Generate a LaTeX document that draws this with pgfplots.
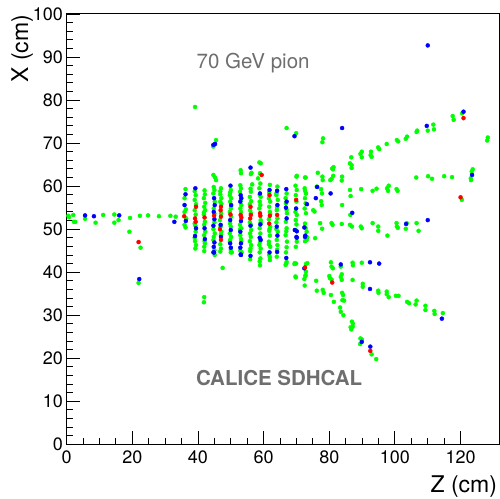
\documentclass[border=0pt]{standalone}
\usepackage{fontspec}
\setmainfont{TeX Gyre Heros}
\usepackage{pgfplots}
\pgfplotsset{compat=1.18}
\definecolor{hitg}{RGB}{0,255,0}
\definecolor{hitb}{RGB}{0,0,255}
\definecolor{hitr}{RGB}{255,0,0}
\definecolor{txtgray}{RGB}{110,110,110}

\begin{document}
\begin{tikzpicture}
\useasboundingbox (-66.7pt,-53.7pt) rectangle (433.3pt,444.3pt);
\begin{axis}[
  at={(0,0)}, anchor=south west,
  scale only axis, width=432.6pt, height=430.3pt,
  xmin=0, xmax=131.8, ymin=0, ymax=100,
  xtick={0,20,...,120}, ytick={0,10,...,100},
  minor x tick num=3, minor y tick num=4,
  xtick pos=bottom, ytick pos=left, tick align=inside,
  major tick length=13pt, minor tick length=6.5pt,
  axis line style={line width=1pt}, every tick/.style={black, line width=0.9pt},
  /pgf/number format/assume math mode=true,
  tick label style={font=\fontsize{18}{20}\selectfont},
  yticklabel style={inner sep=0pt, xshift=-3.5pt},
  xticklabel style={inner sep=0pt, yshift=-6pt},
  clip=false]

% green hits
\addplot[only marks, mark=*, mark size=2pt, color=hitg] coordinates {
 (0.5,53.1) (2.0,53.3) (0.7,52.8) (2.2,51.7) (2.6,51.7) (5.6,52.4) (8.8,51.5) (11.1,53.3)
 (14.5,53.4) (14.5,51.5) (15.8,52.1) (19.3,52.6) (22.3,53.1) (24.8,53.2) (28.1,53.0)
 (31.6,53.1) (33.2,52.9) (19.1,49.4) (22.5,45.7) (21.9,37.5)
 (39.1,78.4) (44.7,69.2) (45.5,70.7) (44.7,62.6) (45.2,62.0) (45.5,61.4)
 (41.9,34.2) (41.8,33.0) (47.5,41.0) (50.3,44.6) (53.3,44.6)
 (58.7,65.5) (59.1,65.3) (56.3,63.1) (56.1,62.8) (58.9,63.0) (56.5,60.4) (53.0,63.7)
 (53.1,63.0) (58.3,61.8) (70.1,62.4) (72.6,62.0)
 (36.2,59.3) (35.9,57.2) (36.3,54.6) (35.9,54.0) (36.4,52.5) (35.9,51.0) (36.2,50.4)
 (39.3,57.9) (39.0,56.8) (39.4,55.8) (39.0,54.4) (39.3,53.4) (39.0,51.3) (39.3,49.4) (39.1,47.2) (39.4,46.3)
 (39.0,58.8) (39.2,50.8) (39.0,48.0) (39.2,45.5)
 (42.1,58.1) (41.8,57.2) (42.2,56.1) (41.9,55.2) (42.2,54.4) (41.8,53.4) (42.1,51.7) (41.9,51.0)
 (42.2,49.4) (41.9,48.6) (42.1,46.7) (41.9,45.9) (42.0,59.0) (41.8,53.9) (42.0,47.2) (41.9,44.9)
 (45.0,59.1) (44.7,58.3) (45.1,56.4) (44.8,54.8) (45.0,51.6) (44.7,50.0) (45.1,49.0) (44.8,48.2) (45.0,45.1)
 (44.8,59.8) (45.0,53.6) (44.7,47.5) (45.1,44.0)
 (47.0,59.5) (46.8,58.1) (47.1,57.2) (46.8,56.4) (47.0,53.7) (46.7,52.1) (47.1,49.4) (46.8,46.5) (47.0,45.5)
 (46.8,58.8) (47.1,55.9) (46.9,50.6) (47.0,48.8) (46.8,44.8)
 (50.0,59.1) (49.7,57.9) (50.1,57.2) (49.8,56.4) (50.0,54.8) (49.7,54.0) (50.1,52.9) (49.8,51.3)
 (50.0,50.6) (49.7,49.0) (50.1,48.2) (49.8,47.5) (50.0,44.6) (49.8,58.5) (50.1,55.2) (49.7,47.0) (50.0,45.2)
 (53.1,59.5) (52.8,58.7) (53.2,55.6) (52.9,54.8) (53.1,54.0) (52.8,51.0) (53.2,50.2) (52.9,48.6) (53.1,47.7)
 (52.9,60.2) (53.1,56.9) (52.8,49.9) (53.2,47.1) (52.9,45.0)
 (56.1,58.7) (55.8,57.5) (56.2,56.5) (55.9,54.4) (56.1,53.7) (55.8,51.6) (56.2,49.8) (55.9,49.0)
 (56.1,48.2) (55.8,47.2) (56.2,46.3) (55.9,44.9) (56.0,59.4) (55.8,55.8) (56.1,51.0) (56.0,45.5) (55.9,43.0)
 (59.0,60.6) (58.7,59.5) (59.1,57.5) (58.8,56.4) (59.0,55.6) (58.7,54.8) (59.1,52.1) (58.8,50.2)
 (59.0,49.0) (58.7,46.3) (59.1,45.5) (58.8,44.6) (59.0,43.2) (58.9,41.6)
 (58.8,58.0) (59.1,51.5) (58.9,47.0) (58.8,42.5)
 (61.9,60.3) (61.6,57.2) (62.0,56.4) (61.7,55.2) (61.9,54.0) (61.6,52.3) (62.0,50.6) (61.7,49.6)
 (61.9,48.5) (61.6,47.1) (62.0,45.9) (61.7,44.0) (61.9,42.8) (61.7,58.5) (62.0,53.5) (61.8,50.0)
 (61.6,46.5) (61.9,43.5)
 (64.2,59.9) (63.9,57.9) (64.3,56.8) (64.0,54.4) (64.2,52.5) (63.9,51.6) (64.3,49.4) (64.0,47.5)
 (64.2,46.3) (64.0,43.6) (63.9,58.3) (64.1,55.0) (63.9,50.0) (64.1,45.2)
 (67.0,58.3) (66.7,57.2) (67.1,53.7) (66.8,51.7) (67.0,50.2) (66.7,48.6) (67.1,47.1) (66.8,44.6)
 (67.0,42.4) (66.9,42.0) (66.8,56.0) (67.0,54.5) (66.9,49.5) (67.0,45.8)
 (70.0,62.2) (69.7,60.1) (70.1,59.1) (69.8,57.9) (70.0,56.4) (69.7,54.0) (70.1,53.3) (69.8,52.1)
 (70.0,51.1) (69.7,49.8) (70.1,47.1) (69.8,45.9) (69.9,42.0)
 (72.8,62.0) (72.5,59.5) (72.9,58.3) (72.6,57.2) (72.8,56.0) (72.5,54.8) (72.9,53.7) (72.6,51.3)
 (72.8,50.2) (72.6,47.2)
 (120.5,76.9) (117.6,76.3) (117.9,75.4) (111.7,74.3) (111.9,73.2) (110.0,72.9) (106.8,72.9)
 (106.6,72.6) (103.7,71.5) (103.3,71.0) (100.6,70.7) (101.0,70.4) (97.5,69.8) (94.9,69.0)
 (95.2,68.6) (92.7,68.0) (92.6,67.2) (92.9,66.8) (89.9,68.0) (89.5,67.5) (89.9,66.7) (86.7,66.7)
 (86.3,65.3) (86.8,64.9) (86.8,64.2) (81.3,64.4) (81.1,63.9) (78.1,71.1) (77.9,70.2) (67.0,73.5)
 (69.9,72.3) (128.3,71.3) (128.1,70.6) (123.7,63.9) (123.4,63.4) (123.1,61.8) (123.2,61.4)
 (120.4,56.8) (115.0,62.3) (117.4,62.1) (111.3,61.7) (110.1,62.3) (106.5,62.0) (100.5,59.3)
 (100.8,58.9) (98.1,60.1) (97.6,59.5) (97.9,58.9) (94.4,59.4) (93.2,58.9) (89.7,59.3) (86.3,59.1)
 (86.5,57.7) (83.9,62.2) (83.8,61.3) (80.9,64.1) (81.2,62.4) (80.7,61.7) (80.3,61.4) (77.9,62.2)
 (78.0,61.4) (76.5,63.1) (77.5,59.3) (77.8,58.3) (76.2,59.9) (83.9,55.6) (86.4,53.3) (75.5,54.1)
 (75.1,54.4) (77.5,56.5) (77.7,55.6) (72.6,58.9) (72.9,58.3)
 (77.2,51.4) (77.8,50.1) (80.7,51.4) (81.0,51.0) (83.8,51.2) (86.3,51.0) (86.9,50.6) (89.6,50.6)
 (89.9,50.2) (93.2,51.4) (94.9,50.6) (94.9,49.6) (97.7,48.5) (100.5,51.4) (100.6,50.6) (100.9,50.3)
 (103.6,51.4) (103.3,50.1) (106.6,51.4) (107.2,49.6) (75.7,47.9) (73.3,48.1) (73.1,49.4) (73.1,47.5)
 (69.4,41.9) (66.7,41.7) (72.9,41.9) (73.3,42.1) (69.8,38.8) (72.4,38.4) (72.7,39.1) (72.8,39.3)
 (72.5,36.9) (80.5,42.3) (80.7,41.3) (81.1,40.9) (83.5,41.3) (87.1,42.2) (87.2,41.6) (89.9,42.2)
 (76.0,38.0) (80.0,39.1) (80.7,38.3) (80.2,38.6) (83.8,39.5) (83.5,38.9) (83.8,38.2) (87.1,38.2)
 (76.2,35.7) (78.0,35.9) (78.3,35.2) (80.5,34.7) (81.4,33.1) (83.9,35.2) (84.2,34.7) (84.0,33.5)
 (84.5,33.4) (83.3,31.8) (83.5,30.8) (84.3,30.0) (86.9,28.5) (87.2,28.0) (86.5,27.2) (86.7,26.7)
 (87.1,27.3) (89.5,24.6) (89.9,24.4) (89.4,23.3) (92.9,20.9) (94.3,19.8) (90.2,37.3) (90.2,36.6)
 (94.9,35.7) (95.0,35.2) (97.5,35.5) (97.5,34.9) (98.1,34.2) (100.3,34.5) (101.1,34.5) (103.7,33.1)
 (104.3,32.8) (106.6,33.4) (106.3,32.5) (109.3,32.2) (109.3,31.2) (112.0,31.0) (112.1,30.3)
 (114.6,30.5) (69.5,42.1) (69.7,39.0) (72.9,40.1)
};

% blue hits
\addplot[only marks, mark=*, mark size=2pt, color=hitb] coordinates {
 (5.6,53.2) (8.3,53.0) (16.0,53.2) (32.8,51.7) (22.1,38.4)
 (44.7,69.6) (45.2,69.8) (56.0,64.3) (44.7,44.6) (53.1,44.0)
 (36.2,58.1) (35.9,55.6) (36.3,51.9) (39.2,59.5) (39.4,50.2) (39.1,48.4) (42.0,50.2) (42.1,47.7)
 (44.9,57.2) (45.1,55.6) (44.8,54.0) (45.0,52.3) (44.7,50.8) (45.0,46.9) (44.8,45.9) (44.9,44.6)
 (46.9,51.0) (47.0,48.2) (49.9,60.1) (50.1,55.6) (49.8,52.1) (50.0,49.8) (49.8,46.7) (50.0,45.7)
 (53.0,57.9) (53.2,57.2) (52.9,56.4) (53.1,51.9) (52.9,49.4) (53.1,46.7) (52.9,45.7) (53.0,44.1)
 (56.0,50.8) (56.0,43.8) (58.9,58.3) (59.0,51.1) (58.8,48.0) (59.1,47.5) (61.8,59.1) (61.8,44.6)
 (64.1,58.9) (64.2,55.6) (64.0,50.6) (64.2,48.5) (64.1,44.7) (66.9,59.3) (67.0,56.4) (66.8,55.0)
 (67.0,52.5) (66.9,43.3) (69.9,54.8) (70.0,48.2) (72.7,48.5)
 (110.0,92.7) (120.9,77.3) (109.7,74.0) (83.9,73.5) (69.4,71.6) (123.5,62.6) (110.0,52.1)
 (103.4,51.2) (76.3,59.8) (80.4,58.3) (75.9,57.2) (87.0,53.8) (73.2,55.8) (72.4,50.4) (70.1,49.5)
 (72.6,48.2) (69.5,49.8) (70.1,48.0)
 (72.4,40.9) (83.5,41.8) (92.4,42.3) (95.2,42.0) (89.9,23.8) (92.5,22.7) (92.4,36.1) (114.3,29.2)
};

% red hits
\addplot[only marks, mark=*, mark size=2pt, color=hitr] coordinates {
 (21.9,47.0) (59.4,62.6)
 (35.8,53.0) (39.4,55.2) (39.1,52.5) (39.3,51.7) (42.0,52.7) (44.9,53.1)
 (47.0,55.2) (46.9,54.4) (47.0,52.9) (46.7,50.0) (47.0,47.5) (49.9,53.4) (53.0,53.3) (53.2,52.7)
 (56.0,55.2) (56.1,53.3) (55.9,52.5) (58.9,53.7) (59.0,53.1) (61.8,57.9) (61.9,53.1) (61.7,51.3)
 (64.1,53.3) (69.9,56.8)
 (120.9,75.8) (120.0,57.4) (72.6,41.1) (80.9,37.6) (92.5,21.7)
};

\node[font=\fontsize{20.5}{24}\selectfont, text=txtgray] at (rel axis cs:0.431,0.886) {70 GeV pion};
\node[font=\bfseries\fontsize{20.5}{24}\selectfont, text=txtgray] at (rel axis cs:0.491,0.154) {CALICE SDHCAL};
\node[font=\fontsize{23}{26}\selectfont, rotate=90] at (rel axis cs:-0.103,0.919) {X (cm)};
\node[font=\fontsize{23}{26}\selectfont] at (rel axis cs:0.918,-0.099) {Z (cm)};
\end{axis}
\end{tikzpicture}
\end{document}
